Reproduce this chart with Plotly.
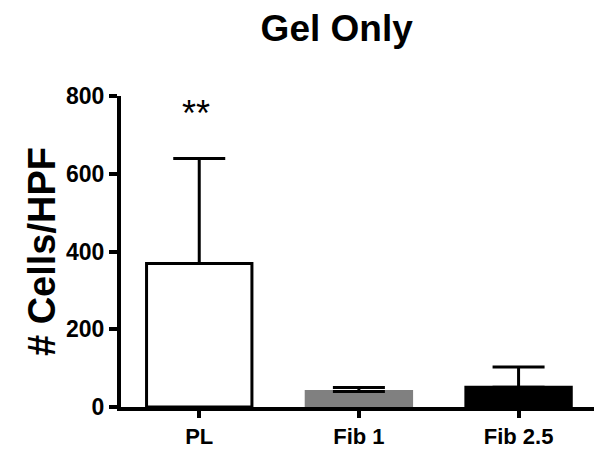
import plotly.graph_objs as go

groups = ["PL", "Fib 1", "Fib 2.5"]
means = [369, 40, 51]
errors = [270, 10, 52]
fills = ["white", "#808080", "black"]
edges = ["black", "#808080", "black"]
y_ticks = [0, 200, 400, 600, 800]

FONT = "Liberation Sans, Arial, sans-serif"

fig = go.Figure()
fig.add_trace(go.Bar(
    x=groups,
    y=means,
    width=0.66,
    marker=dict(color=fills, line=dict(color=edges, width=3)),
    error_y=dict(type="data", symmetric=False, array=errors, arrayminus=[0, 0, 0],
                 color="black", thickness=3, width=26),
))

# significance marker above PL
fig.add_annotation(x=groups[0], y=means[0] + errors[0], yshift=45, xshift=-3, text="**",
                   showarrow=False, font=dict(family=FONT, size=36, color="black"))

fig.update_xaxes(range=[-0.49, 2.51], showline=True, linewidth=4, linecolor="black",
                 ticks="outside", ticklen=7, tickwidth=4, tickcolor="black",
                 tickfont=dict(family=FONT, size=22, color="black", weight="bold"),
                 showgrid=False, zeroline=False, layer="above traces")
fig.update_yaxes(range=[0, 800], tickvals=y_ticks, showline=True, linewidth=4, linecolor="black",
                 ticks="outside", ticklen=8, tickwidth=4, tickcolor="black",
                 tickfont=dict(family=FONT, size=23, color="black", weight="bold"),
                 title=dict(text="# Cells/HPF", font=dict(family=FONT, size=38, color="black", weight="bold"),
                            standoff=0),
                 showgrid=False, zeroline=False, layer="above traces")
fig.update_layout(
    title=dict(text="Gel Only", x=0.546, xanchor="center", y=0.955, yanchor="middle",
               font=dict(family=FONT, size=37, color="black", weight="bold")),
    width=602, height=451,
    margin=dict(l=113, r=10, t=88, b=47),
    plot_bgcolor="white", paper_bgcolor="white",
    showlegend=False,
    bargap=0.34,
)

fig.write_html("out.html")
